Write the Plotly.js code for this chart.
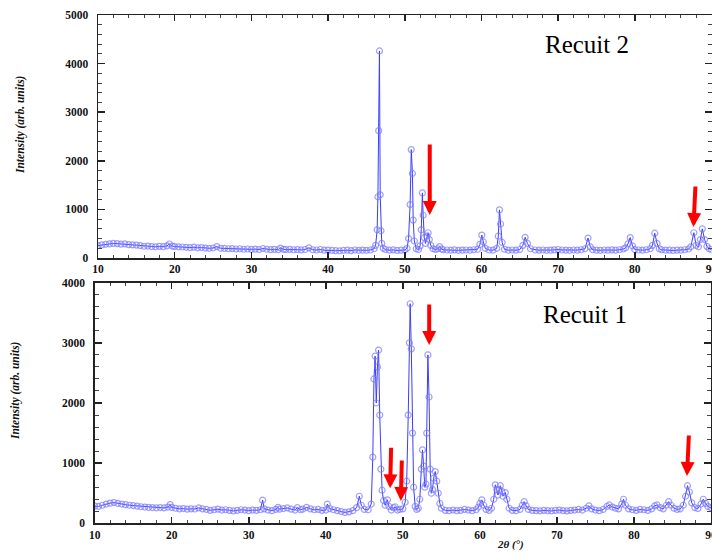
<!DOCTYPE html>
<html>
<head>
<meta charset="utf-8">
<script src="https://cdn.plot.ly/plotly-3.0.1.min.js"></script>
<style>
html,body{margin:0;padding:0;background:#fff;}
#chart{width:712px;height:552px;}
</style>
</head>
<body>
<div id="chart"></div>
<script>
// ---------- Data: Recuit 2 (top panel) ----------
const theta_recuit2 = [10,10.5,11,11.5,12,12.5,13,13.5,14,14.5,15,15.5,16,16.5,17,17.5,18,18.5,19,19.3,19.7,20,20.5,21,21.5,22,22.5,23,23.5,24,24.5,25,25.5,26,26.5,27,27.5,28,28.5,29,29.5,30,30.5,31,31.5,32,32.5,33,33.5,33.8,34.2,34.5,35,35.5,36,36.5,37,37.5,38,38.5,39,39.5,40,40.5,41,41.5,42,42.5,43,43.5,44,44.5,45,45.5,46,46.2,46.4,46.5,46.6,46.7,46.8,46.9,47,47.2,47.5,48,48.5,49,49.5,50,50.3,50.5,50.7,50.85,51,51.1,51.25,51.5,51.8,52,52.15,52.3,52.4,52.55,52.7,52.9,53.05,53.2,53.4,53.7,54,54.3,54.55,54.8,55,55.5,56,56.5,57,57.5,58,58.5,59,59.5,59.8,60.05,60.25,60.5,61,61.5,62,62.2,62.35,62.5,62.7,63,63.5,64,64.5,65,65.4,65.7,66,66.4,67,67.5,68,68.5,69,69.5,70,70.5,71,71.5,72,72.5,73,73.5,73.9,74.2,74.5,75,75.5,76,76.5,77,77.5,78,78.5,78.8,79.1,79.4,79.7,80,80.5,81,81.5,82,82.3,82.6,82.9,83.2,83.5,84,84.5,85,85.5,86,86.5,87,87.3,87.7,88,88.3,88.55,88.8,89.1,89.4,89.7,90];
const intensity_recuit2 = [255,270,282,290,300,296,286,290,276,270,265,255,242,246,236,230,240,232,250,288,245,236,230,226,220,214,222,210,215,205,200,206,235,200,196,190,193,185,190,180,185,178,182,175,195,180,172,178,170,205,178,175,178,170,172,166,175,210,170,165,175,160,162,155,150,148,155,160,152,165,158,162,158,165,190,260,580,1260,2620,4260,1300,560,300,200,175,160,168,155,160,165,200,400,1100,2230,1740,780,350,190,175,250,580,1340,880,420,300,450,520,380,260,190,175,190,235,185,170,165,160,168,158,162,165,160,170,180,280,470,330,200,165,160,200,450,990,700,320,180,160,165,160,175,260,425,300,190,165,160,165,158,162,168,175,165,160,158,165,162,170,190,410,230,170,162,158,165,160,168,162,170,185,210,290,420,250,175,165,160,170,190,260,510,300,190,170,162,160,155,162,160,170,185,230,520,260,230,380,600,380,240,190,175];

// ---------- Data: Recuit 1 (bottom panel) ----------
const theta_recuit1 = [10,10.5,11,11.5,12,12.5,13,13.5,14,14.5,15,15.5,16,16.5,17,17.5,18,18.5,19,19.5,19.8,20,20.5,21,21.5,22,22.5,23,23.5,24,24.5,25,25.5,26,26.5,27,27.5,28,28.5,29,29.5,30,30.5,31,31.5,31.8,32,32.5,33,33.5,33.8,34,34.5,35,35.5,36,36.3,36.7,37,37.5,38,38.5,39,39.5,40,40.2,40.5,41,41.5,42,42.5,43,43.5,44,44.35,44.6,45,45.5,45.9,46.1,46.25,46.4,46.55,46.7,46.85,47,47.15,47.3,47.5,47.7,48,48.2,48.5,48.8,49,49.3,49.6,50,50.3,50.5,50.7,50.85,50.95,51.1,51.25,51.4,51.6,51.8,52,52.2,52.4,52.55,52.7,52.85,53,53.1,53.25,53.4,53.55,53.7,53.85,54,54.2,54.4,54.6,54.8,55,55.5,56,56.5,57,57.5,58,58.5,59,59.5,59.8,60,60.25,60.5,60.8,61.2,61.5,61.8,62,62.2,62.35,62.5,62.65,62.85,63,63.3,63.5,63.8,64.2,64.7,65.2,65.5,65.75,66,66.3,66.8,67.3,67.8,68.3,68.8,69.3,69.8,70.3,70.8,71.3,71.8,72.3,72.8,73.3,73.8,74.15,74.5,75,75.5,76,76.5,76.8,77.2,77.6,78,78.4,78.65,78.9,79.3,79.8,80.3,80.8,81.3,81.8,82.3,82.7,83,83.4,83.8,84.2,84.5,84.8,85.2,85.6,86,86.4,86.7,86.95,87.2,87.5,87.9,88.3,88.7,89,89.3,89.6,90];
const intensity_recuit1 = [285,280,300,320,335,345,330,320,310,300,295,285,275,270,265,262,258,262,255,270,310,265,250,240,245,235,240,238,255,240,230,215,225,235,220,225,215,205,215,225,220,210,220,215,225,385,240,220,210,230,265,235,245,255,235,220,260,225,235,265,240,225,230,215,220,320,245,225,210,195,180,190,210,260,450,300,230,225,320,1100,2400,2780,2000,2600,2880,1800,900,550,380,300,390,280,220,260,275,220,230,240,350,700,1800,3000,3650,2900,1500,600,280,230,250,400,900,1220,950,600,650,1500,2800,2100,900,500,560,750,860,700,500,330,250,215,210,220,210,215,230,220,210,225,270,330,390,300,230,215,250,400,640,560,470,560,625,530,450,510,400,250,215,210,230,300,360,290,230,215,210,205,215,210,205,215,220,210,205,215,220,230,220,250,290,240,220,210,230,280,305,270,250,240,320,400,300,240,225,215,230,225,215,240,290,305,260,240,300,360,300,250,230,240,300,450,625,520,340,260,245,320,400,330,280,260];

// ---------- Axis ticks ----------
const xTickVals = [10,20,30,40,50,60,70,80,90];
const yTickVals_recuit2 = [0,1000,2000,3000,4000,5000];
const yTickVals_recuit1 = [0,1000,2000,3000,4000];

const W = 712, H = 552;
const px = v => v / W;
const py = v => 1 - v / H;

const lineColor = 'rgb(60,60,255)';
const markerColor = 'rgba(120,120,255,0.7)';

function series(x, y, xa, ya, name) {
  return {
    x: x, y: y, xaxis: xa, yaxis: ya, name: name,
    type: 'scatter', mode: 'lines+markers',
    line: {color: lineColor, width: 1},
    marker: {symbol: 'circle-open', size: 6, color: markerColor, line: {width: 1.2, color: markerColor}},
    showlegend: false, hoverinfo: 'x+y'
  };
}

const tickFont = {family: 'Liberation Serif', size: 11.5, color: '#111', weight: 'bold'};

function xAxis(domain, anchor) {
  return {
    domain: domain, anchor: anchor, range: [10, 90],
    tickvals: xTickVals, ticktext: xTickVals.map(String),
    ticks: 'inside', ticklen: 6, tickwidth: 1.5, tickcolor: '#222',
    minor: {dtick: 2, tick0: 10, ticks: 'inside', ticklen: 3, tickwidth: 1, tickcolor: '#444'},
    showline: true, linecolor: '#222', linewidth: 1.5, mirror: 'ticks',
    showgrid: false, zeroline: false, tickfont: tickFont, ticklabeloverflow: 'allow', fixedrange: true
  };
}
function yAxis(domain, anchor, range, vals) {
  return {
    domain: domain, anchor: anchor, range: range,
    tickvals: vals, ticktext: vals.map(String),
    ticks: 'inside', ticklen: 7, tickwidth: 1.5, tickcolor: '#222',
    minor: {dtick: 200, tick0: 0, ticks: 'inside', ticklen: 4, tickwidth: 1, tickcolor: '#444'},
    showline: true, linecolor: '#222', linewidth: 1.5, mirror: 'ticks',
    showgrid: false, zeroline: false, tickfont: tickFont, ticklabelstandoff: 6, fixedrange: true
  };
}

const titleFont = {family: 'Liberation Serif', size: 11.5, color: '#111', weight: 'bold', style: 'italic'};
const labelFont = {family: 'Liberation Serif', size: 25, color: '#000'};

function arrow(xref, yref, x, y, ax, ay) {
  return {xref: xref, yref: yref, x: x, y: y, ax: ax, ay: ay, text: '',
    showarrow: true, arrowcolor: '#ff0000', arrowwidth: 4, arrowhead: 2, arrowsize: 0.7};
}

const layout = {
  width: W, height: H,
  margin: {l: 0, r: 0, t: 0, b: 0},
  paper_bgcolor: '#fff', plot_bgcolor: '#fff',
  xaxis: xAxis([px(98), px(711.5)], 'y'),
  yaxis: yAxis([py(258), py(15)], 'x', [0, 5000], yTickVals_recuit2),
  xaxis2: xAxis([px(94.7), px(711)], 'y2'),
  yaxis2: yAxis([py(523.3), py(282.7)], 'x2', [0, 4000], yTickVals_recuit1),
  annotations: [
    {xref: 'paper', yref: 'paper', x: px(20), y: py(125), text: 'Intensity (arb. units)', textangle: -90,
     showarrow: false, font: titleFont, xanchor: 'center', yanchor: 'middle'},
    {xref: 'paper', yref: 'paper', x: px(15), y: py(391), text: 'Intensity (arb. units)', textangle: -90,
     showarrow: false, font: titleFont, xanchor: 'center', yanchor: 'middle'},
    {xref: 'paper', yref: 'paper', x: px(510), y: py(544), text: '2θ (°)',
     showarrow: false, font: {family: 'Liberation Serif', size: 11, color: '#111', weight: 'bold', style: 'italic'},
     xanchor: 'center', yanchor: 'middle'},
    {xref: 'paper', yref: 'paper', x: px(587), y: py(44), text: 'Recuit 2', showarrow: false,
     font: labelFont, xanchor: 'center', yanchor: 'middle'},
    {xref: 'paper', yref: 'paper', x: px(585), y: py(314), text: 'Recuit 1', showarrow: false,
     font: labelFont, xanchor: 'center', yanchor: 'middle'},
    arrow('x', 'y', 53.26, 885, 0, -72),
    arrow('x', 'y', 87.65, 638, 2, -42),
    arrow('x2', 'y2', 53.42, 2964, 0, -42),
    arrow('x2', 'y2', 48.35, 582, 1, -42),
    arrow('x2', 'y2', 49.74, 371, 1, -42),
    arrow('x2', 'y2', 86.88, 786, 2, -42)
  ]
};

Plotly.newPlot('chart', [
  series(theta_recuit2, intensity_recuit2, 'x', 'y', 'Recuit 2'),
  series(theta_recuit1, intensity_recuit1, 'x2', 'y2', 'Recuit 1')
], layout, {displayModeBar: false, staticPlot: true});
</script>
</body>
</html>
